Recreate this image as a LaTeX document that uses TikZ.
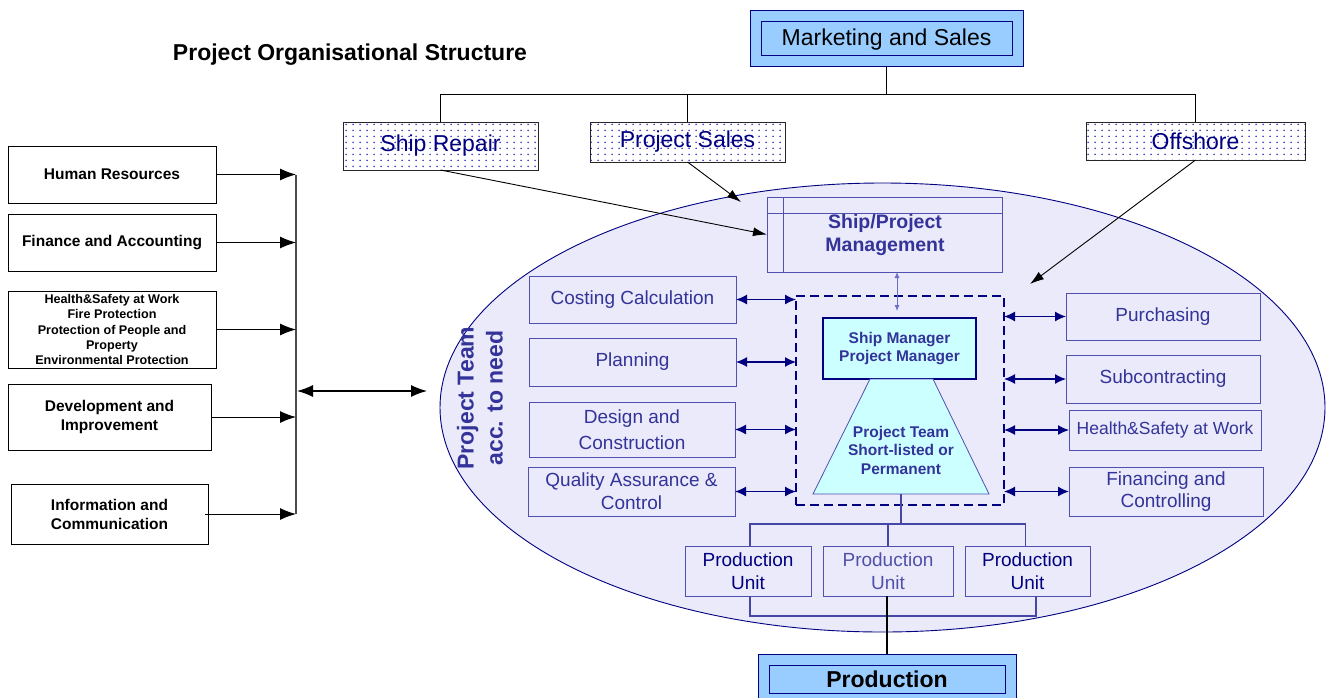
\documentclass[tikz,border=0pt]{standalone}
\usepackage{fontspec}
\setmainfont{Liberation Sans}
\usetikzlibrary{shapes.geometric,arrows.meta,patterns.meta}

\definecolor{navy}{RGB}{0,0,128}
\definecolor{txtblue}{RGB}{51,51,153}
\definecolor{edgeblue}{RGB}{80,80,176}
\definecolor{lineblue}{RGB}{70,70,165}
\definecolor{skyfill}{RGB}{153,204,255}
\definecolor{cyanfill}{RGB}{204,255,255}
\definecolor{lavender}{RGB}{234,234,250}
\definecolor{dotblue}{RGB}{55,55,190}
\definecolor{lightarrow}{RGB}{110,110,200}

\newcommand\fsz[2]{\fontsize{#1}{#2}\selectfont}

% sparse blue dot fill for the business-unit boxes
\tikzdeclarepattern{
  name=bluedots,
  type=uncolored,
  bounding box={(0pt,0pt) and (7pt,6pt)},
  tile size={(7pt,6pt)},
  code={\pgfpathcircle{\pgfpoint{3.5pt}{3pt}}{1pt}\pgfusepath{fill}}
}

\begin{document}
\begin{tikzpicture}[x=1pt,y=-1pt,
  every node/.style={inner sep=0pt, outer sep=0pt, align=center},
  unitbox/.style={draw=black, line width=0.8pt, fill=white, font=\bfseries\fsz{15.5}{19}},
  dotbox/.style={draw=black!85, line width=0.8pt, pattern=bluedots, pattern color=dotblue,
                 text=navy, font=\fsz{23}{27}},
  teambox/.style={draw=edgeblue, line width=0.8pt, text=txtblue, font=\fsz{19}{23}},
  blk/.style={line width=1pt, -{Latex[length=16pt,width=12pt]}},
  blkdbl/.style={line width=1.2pt, {Latex[length=16pt,width=12pt]}-{Latex[length=16pt,width=12pt]}},
  dbl/.style={draw=navy, line width=1.3pt, {Latex[length=11pt,width=10pt]}-{Latex[length=11pt,width=10pt]}},
  feed/.style={line width=0.9pt, -{Latex[length=14pt,width=9pt]}},
  skybox/.style={draw=navy, line width=0.9pt, fill=skyfill}
]
\clip (0,0) rectangle (1327,697);
\fill[white] (0,0) rectangle (1327,697);

% project team area
\node[ellipse, draw=navy, line width=0.9pt, fill=lavender,
      minimum width=885, minimum height=449] (area) at (882.5,407.5) {};

% title
\node[font=\bfseries\fsz{23}{27}] (title) at (350,55) {Project Organisational Structure};

% marketing and sales
\node[skybox, minimum width=273, minimum height=56] (mkt) at (886.5,38) {};
\node[draw=navy, line width=0.9pt, minimum width=251, minimum height=34] (mktin) at (886.5,38) {};
\node[font=\fsz{23}{27}] (mkttxt) at (886.5,40) {Marketing and Sales};

% business units
\node[dotbox, minimum width=195, minimum height=48] (sr) at (440.5,146) {Ship Repair};
\node[dotbox, minimum width=195, minimum height=40] (ps) at (687.5,142) {Project Sales};
\node[dotbox, minimum width=219, minimum height=38] (off) at (1195.5,141) {Offshore};

\coordinate (bar) at (0,94);
\draw[line width=0.9pt] (mkt.south) -- (mkt.south |- bar);
\draw[line width=0.9pt] (sr.north) -- (sr.north |- bar) -- (off.north |- bar) -- (off.north);
\draw[line width=0.9pt] (ps.north) -- (ps.north |- bar);

% ship / project management
\node[draw=edgeblue, line width=0.9pt, minimum width=235, minimum height=75] (spm) at (884.5,234.5) {};
\draw[edgeblue, line width=0.9pt] ([yshift=-16]spm.north west) -- ([yshift=-16]spm.north east);
\draw[edgeblue, line width=0.9pt] ([xshift=16]spm.north west) -- ([xshift=16]spm.south west);
\node[font=\bfseries\fsz{19.5}{23}, text=txtblue] (spmtxt) at (885,235) {Ship/Project\\Management};

\coordinate (pstip) at (741,202);
\coordinate (offtip) at (1030,284);
\draw[feed] (sr.south) -- (spm.west);
\draw[feed] (ps.south) -- (pstip);
\draw[feed] (off.south) -- (offtip);

% core team frame
\node[draw=navy, dash pattern=on 9pt off 5pt, line width=1.3pt,
      minimum width=208, minimum height=209] (dbox) at (900,400.5) {};

\coordinate (spmlow) at (897,272);
\coordinate (dboxin) at (897,311);
\draw[lightarrow, line width=0.9pt, {Latex[length=6pt,width=5pt]}-{Latex[length=6pt,width=5pt]}] (spmlow) -- (dboxin);

\node[draw=navy, line width=1.8pt, fill=cyanfill, minimum width=153, minimum height=61,
      font=\bfseries\fsz{15.5}{18}, text=txtblue] (sm) at (899.5,348.5) {Ship Manager\\Project Manager};

\coordinate (trtl) at (870,379);
\coordinate (trtr) at (933,379);
\coordinate (trbr) at (989,494);
\coordinate (trbl) at (813,494);
\coordinate (trapb) at (901,494);
\draw[edgeblue, line width=0.8pt, fill=cyanfill] (trtl) -- (trtr) -- (trbr) -- (trbl) -- cycle;
\node[font=\bfseries\fsz{15.5}{18.5}, text=txtblue] (team) at (901,450) {Project Team\\Short-listed or\\Permanent};

% departments left of the core
\node[teambox, minimum width=207, minimum height=47] (cc) at (632.5,299.5) {Costing Calculation};
\node[teambox, minimum width=207, minimum height=48] (pl) at (632.5,362) {Planning};
\node[teambox, minimum width=206, minimum height=55, font=\fsz{19}{26}] (dc) at (632,429.5) {Design and\\Construction};
\node[teambox, minimum width=207, minimum height=49] (qa) at (631.5,491.5) {Quality Assurance \&\\Control};

% departments right of the core
\node[teambox, minimum width=194, minimum height=47] (pur) at (1163,316.5) {Purchasing};
\node[teambox, minimum width=194, minimum height=48] (sub) at (1163,379) {Subcontracting};
\node[teambox, minimum width=192, minimum height=40, font=\fsz{17.5}{21}] (hsw) at (1165,430) {Health\&Safety at Work};
\node[teambox, minimum width=194, minimum height=49, font=\fsz{19}{22}] (fc) at (1166,491.5) {Financing and\\Controlling};

\foreach \n in {cc,pl,dc,qa} \draw[dbl] (\n.east) -- (\n.east -| dbox.west);
\foreach \n in {pur,sub,hsw,fc} \draw[dbl] (\n.west) -- (\n.west -| dbox.east);

% label of the team area
\node[rotate=90, font=\bfseries\fsz{23}{29}, text=txtblue] (ptlabel) at (480,398) {Project Team\\acc. to need};

% production units
\node[teambox, minimum width=126, minimum height=50, text=navy] (pu1) at (748,571) {Production\\Unit};
\node[teambox, minimum width=130, minimum height=50, text={rgb,255:red,80;green,80;blue,170}] (pu2) at (888,571) {Production\\Unit};
\node[teambox, minimum width=125, minimum height=50, text=navy] (pu3) at (1027.5,571) {Production\\Unit};

\coordinate (pbar) at (0,524);
\coordinate (pbase) at (0,616);
\draw[lineblue, line width=1.2pt] (trapb) -- (trapb |- pbar);
\draw[lineblue, line width=1.2pt] ([xshift=2]pu1.north) -- ([xshift=2]pu1.north |- pbar) -- ([xshift=-2]pu3.north |- pbar) -- ([xshift=-2]pu3.north);
\draw[lineblue, line width=1.2pt] (pu2.north) -- (pu2.north |- pbar);
\draw[lineblue, line width=1.2pt] ([xshift=2]pu1.south) -- ([xshift=2]pu1.south |- pbase) -- ([xshift=8.5]pu3.south |- pbase) -- ([xshift=8.5]pu3.south);

% production
\node[skybox, minimum width=258, minimum height=50] (prod) at (887,679) {};
\node[draw=navy, line width=0.9pt, minimum width=236, minimum height=28,
      font=\bfseries\fsz{23}{27}] (prodin) at (887,679) {Production};
\draw[line width=2pt] ([xshift=-1]pu2.south) -- ([xshift=-1]pu2.south |- prod.north);

% support functions
\node[unitbox, minimum width=208, minimum height=57] (hr) at (112,174.5) {Human Resources};
\node[unitbox, minimum width=208, minimum height=57] (fin) at (112,242.5) {Finance and Accounting};
\node[unitbox, minimum width=208, minimum height=77, font=\bfseries\fsz{12.6}{15.2}] (hs) at (112,329.5)
  {Health\&Safety at Work\\Fire Protection\\Protection of People and\\Property\\Environmental Protection};
\node[unitbox, minimum width=203, minimum height=66] (dev) at (109.5,417) {Development and\\Improvement};
\node[unitbox, minimum width=197, minimum height=60] (info) at (109.5,514) {Information and\\Communication};

\coordinate (bustop) at (296,175);
\coordinate (busbot) at (296,514);
\draw[black!70, line width=1.2pt] (bustop) -- (busbot);
\foreach \n in {hr,fin,hs,dev} \draw[blk] (\n.east) -- (\n.east -| bustop);
\draw[blk] ([xshift=-3]info.east) -- (info.east -| bustop);

\coordinate (busmid) at (297,391);
\coordinate (areain) at (427,391);
\draw[blkdbl] (busmid) -- (areain);
\end{tikzpicture}
\end{document}
